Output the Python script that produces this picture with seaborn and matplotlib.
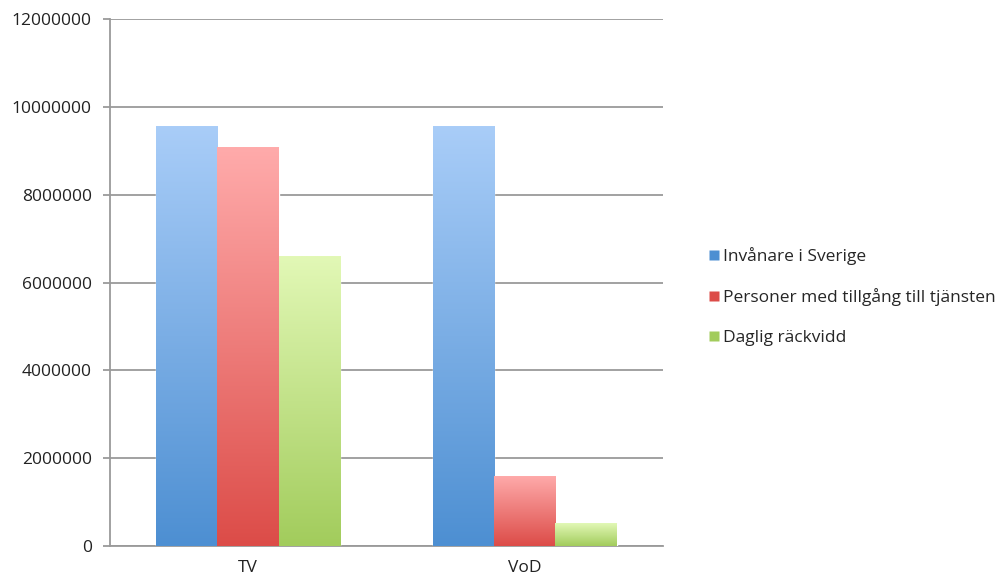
import numpy as np
import pandas as pd
import matplotlib
matplotlib.use("Agg")
import matplotlib.pyplot as plt
from matplotlib.colors import LinearSegmentedColormap
from matplotlib.lines import Line2D
import seaborn as sns

categories = ["TV", "VoD"]
series = ["Invånare i Sverige", "Personer med tillgång till tjänsten", "Daglig räckvidd"]
invanare = [9560000, 9560000]
tillgang = [9080000, 1600000]
rackvidd = [6600000, 520000]
yticks = [0, 2000000, 4000000, 6000000, 8000000, 10000000, 12000000]

# gradient (top, bottom) colours per series
grad = {
    series[0]: ("#a9cdf8", "#4d8fd2"),
    series[1]: ("#ffabab", "#dc4c48"),
    series[2]: ("#e2f8b6", "#a2cc5c"),
}

rows = []
for i, c in enumerate(categories):
    rows.append((c, series[0], invanare[i]))
    rows.append((c, series[1], tillgang[i]))
    rows.append((c, series[2], rackvidd[i]))
df = pd.DataFrame(rows, columns=["kategori", "serie", "antal"])

sns.set_style("white")
plt.rcParams["font.family"] = ["Open Sans", "DejaVu Sans"]

fig = plt.figure(figsize=(9.97, 5.81), dpi=100)
ax = fig.add_axes([0.1103, 0.0602, 0.5547, 0.9068])

palette = {s: grad[s][1] for s in series}
sns.barplot(data=df, x="kategori", y="antal", hue="serie", hue_order=series,
            order=categories, palette=palette, width=0.667, ax=ax,
            saturation=1, legend=False, zorder=3)

# vertical gradient fill for each bar
for bar in ax.patches:
    x0, y0 = bar.get_x(), bar.get_y()
    w, h = bar.get_width(), bar.get_height()
    if h <= 0:
        continue
    fc = matplotlib.colors.to_hex(bar.get_facecolor())
    key = [s for s in series if grad[s][1] == fc][0]
    cmap = LinearSegmentedColormap.from_list(key, [grad[key][1], grad[key][0]])
    img = np.linspace(0, 1, 256).reshape(-1, 1)
    im = ax.imshow(img, cmap=cmap, origin="lower", aspect="auto",
                   extent=[x0, x0 + w, y0, y0 + h], zorder=3.5)
    im.set_clip_path(bar)

ax.set_xlim(-0.5, 1.5)
ax.set_ylim(0, 12000000)
ax.set_yticks(yticks)
ax.set_yticklabels([str(v) for v in yticks], fontsize=12.5, color="#222222")
ax.yaxis.grid(True, color="#9a9a9a", linewidth=1.3, zorder=0)
ax.set_axisbelow(True)
ax.set_xlabel("")
ax.set_ylabel("")

ax.set_xticks([0, 1])
ax.set_xticklabels(categories, fontsize=12.5, color="#222222")
ax.tick_params(axis="x", length=0, pad=10)
ax.set_xticks([-0.5, 0.5, 1.5], minor=True)
ax.tick_params(axis="x", which="minor", length=5, color="#9a9a9a", width=1.3)
ax.tick_params(axis="y", length=5, color="#9a9a9a", width=1.3, pad=8, left=True)

for side in ["top", "right"]:
    ax.spines[side].set_visible(False)
for side in ["left", "bottom"]:
    ax.spines[side].set_color("#9a9a9a")
    ax.spines[side].set_linewidth(1.3)

handles = [Line2D([0], [0], marker="s", linestyle="none", markersize=7,
                  markerfacecolor=grad[s][1], markeredgecolor="none") for s in series]
fig.legend(handles, series, loc="center left", bbox_to_anchor=(0.693, 0.49),
           frameon=False, fontsize=12.5, handletextpad=0.05, labelspacing=1.35,
           handlelength=0.9)

fig.savefig("out.png", dpi=100)
